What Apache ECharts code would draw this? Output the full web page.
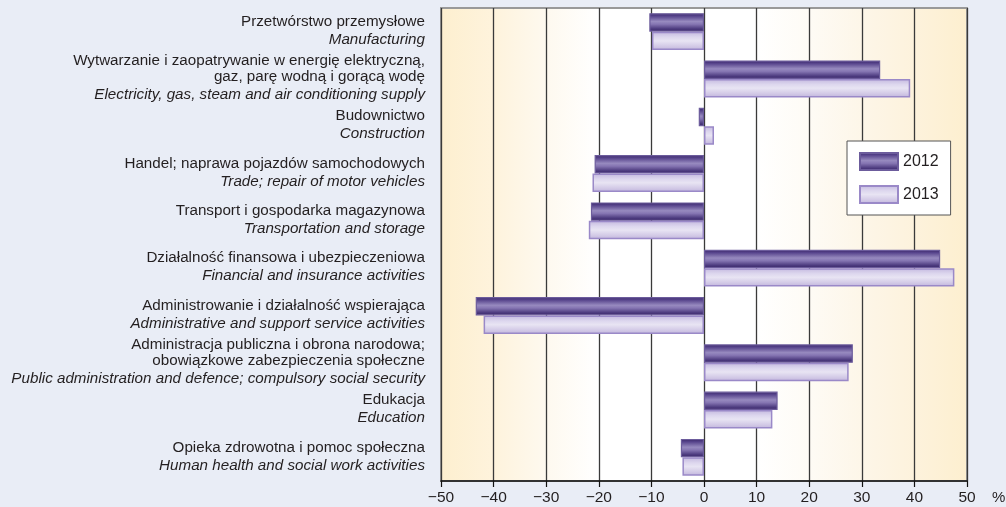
<!DOCTYPE html>
<html>
<head>
<meta charset="utf-8">
<script src="https://cdn.jsdelivr.net/npm/echarts@6/dist/echarts.min.js"></script>
<style>
  html, body { margin: 0; padding: 0; background: #e9edf6; }
  #chart { width: 1006px; height: 507px; }
</style>
</head>
<body>
<div id="chart"></div>
<script>
// sektory - nazwy polskie (linie) i angielskie
const sectorsPl = [
  ['Przetwórstwo przemysłowe'],
  ['Wytwarzanie i zaopatrywanie w energię elektryczną,', 'gaz, parę wodną i gorącą wodę'],
  ['Budownictwo'],
  ['Handel; naprawa pojazdów samochodowych'],
  ['Transport i gospodarka magazynowa'],
  ['Działalność finansowa i ubezpieczeniowa'],
  ['Administrowanie i działalność wspierająca'],
  ['Administracja publiczna i obrona narodowa;', 'obowiązkowe zabezpieczenia społeczne'],
  ['Edukacja'],
  ['Opieka zdrowotna i pomoc społeczna']
];
const sectorsEn = [
  'Manufacturing',
  'Electricity, gas, steam and air conditioning supply',
  'Construction',
  'Trade; repair of motor vehicles',
  'Transportation and storage',
  'Financial and insurance activities',
  'Administrative and support service activities',
  'Public administration and defence; compulsory social security',
  'Education',
  'Human health and social work activities'
];
const values2012 = [-10.4, 33.5, -1.0, -20.8, -21.5, 44.9, -43.4, 28.3, 14.0, -4.4];
const values2013 = [-9.9, 39.2, 1.9, -21.2, -21.9, 47.6, -41.9, 27.5, 13.0, -4.1];
const seriesNames = ['2012', '2013'];

const FONT = "'Liberation Sans', Arial, sans-serif";
const TXT = '#231f20';

function vgrad(stops) {
  return {
    type: 'linear', x: 0, y: 0, x2: 0, y2: 1,
    colorStops: stops.map(s => ({ offset: s[0], color: s[1] }))
  };
}

const chart = echarts.init(document.getElementById('chart'), null, { renderer: 'canvas' });

chart.setOption({
  backgroundColor: '#e9edf6',
  animation: false,
  textStyle: { fontFamily: FONT, color: TXT },
  grid: {
    left: 441, right: 39, top: 8, bottom: 26,
    outerBoundsMode: 'none',
    show: true,
    borderColor: '#999',
    borderWidth: 2,
    backgroundColor: {
      type: 'linear', x: 0, y: 0, x2: 1, y2: 0,
      colorStops: [
        { offset: 0, color: '#fdefcf' },
        { offset: 0.1, color: '#fef3dc' },
        { offset: 0.2, color: '#fef9ef' },
        { offset: 0.3, color: '#ffffff' },
        { offset: 0.6, color: '#ffffff' },
        { offset: 0.7, color: '#fefbf5' },
        { offset: 0.8, color: '#fdf6e8' },
        { offset: 0.9, color: '#fdf2dc' },
        { offset: 1, color: '#fdefcf' }
      ]
    }
  },
  legend: {
    data: seriesNames,
    orient: 'vertical',
    left: 847,
    top: 141,
    padding: [11, 12, 11, 12],
    itemGap: 14,
    itemWidth: 38,
    itemHeight: 17,
    icon: 'rect',
    backgroundColor: '#fff',
    borderColor: '#555',
    borderWidth: 1,
    borderRadius: 0,
    textStyle: { fontFamily: FONT, fontSize: 16, lineHeight: 17, color: TXT }
  },
  xAxis: {
    type: 'value',
    min: -50, max: 50, interval: 10,
    name: '%',
    nameLocation: 'end',
    nameGap: 25,
    nameTextStyle: { fontFamily: FONT, fontSize: 15, color: TXT, verticalAlign: 'top', padding: [9, 0, 0, 0] },
    axisLine: { show: true, lineStyle: { color: '#111', width: 1.5 } },
    axisTick: { show: true, length: 6, lineStyle: { color: '#111', width: 1.2 } },
    axisLabel: {
      fontFamily: FONT, fontSize: 15.5, color: TXT, margin: 9,
      formatter: v => String(v).replace('-', '\u2212')
    },
    splitLine: { show: true, lineStyle: { color: '#3a3a3a', width: 1.3 } }
  },
  yAxis: {
    type: 'category',
    inverse: true,
    data: sectorsEn,
    axisLine: { show: false, onZero: false },
    axisTick: { show: false },
    splitLine: { show: false },
    axisLabel: {
      margin: 16,
      align: 'right',
      formatter: (v, i) =>
        sectorsPl[i].map(s => '{pl|' + s + '}').join('\n') + '\n{en|' + sectorsEn[i] + '}',
      rich: {
        pl: { fontFamily: FONT, fontSize: 15.2, lineHeight: 16, color: TXT, align: 'right' },
        en: { fontFamily: FONT, fontSize: 15.2, fontStyle: 'italic', lineHeight: 20, color: TXT, align: 'right' }
      }
    }
  },
  series: [
    {
      name: seriesNames[0],
      type: 'bar',
      data: values2012,
      barCategoryGap: '22%',
      barGap: '0%',
      itemStyle: {
        color: vgrad([[0, '#3b2868'], [0.15, '#55428a'], [0.45, '#978abf'], [0.6, '#8575b2'], [0.85, '#4c3a7e'], [1, '#3a2766']]),
        borderColor: '#6c5c9c',
        borderWidth: 1.2
      }
    },
    {
      name: seriesNames[1],
      type: 'bar',
      data: values2013,
      barCategoryGap: '22%',
      barGap: '0%',
      itemStyle: {
        color: vgrad([[0, '#c3b8df'], [0.3, '#ddd7ee'], [0.5, '#e8e4f3'], [0.8, '#d2c9e6'], [1, '#c0b4dc']]),
        borderColor: '#9a89c8',
        borderWidth: 1.5
      }
    }
  ]
});
</script>
</body>
</html>
